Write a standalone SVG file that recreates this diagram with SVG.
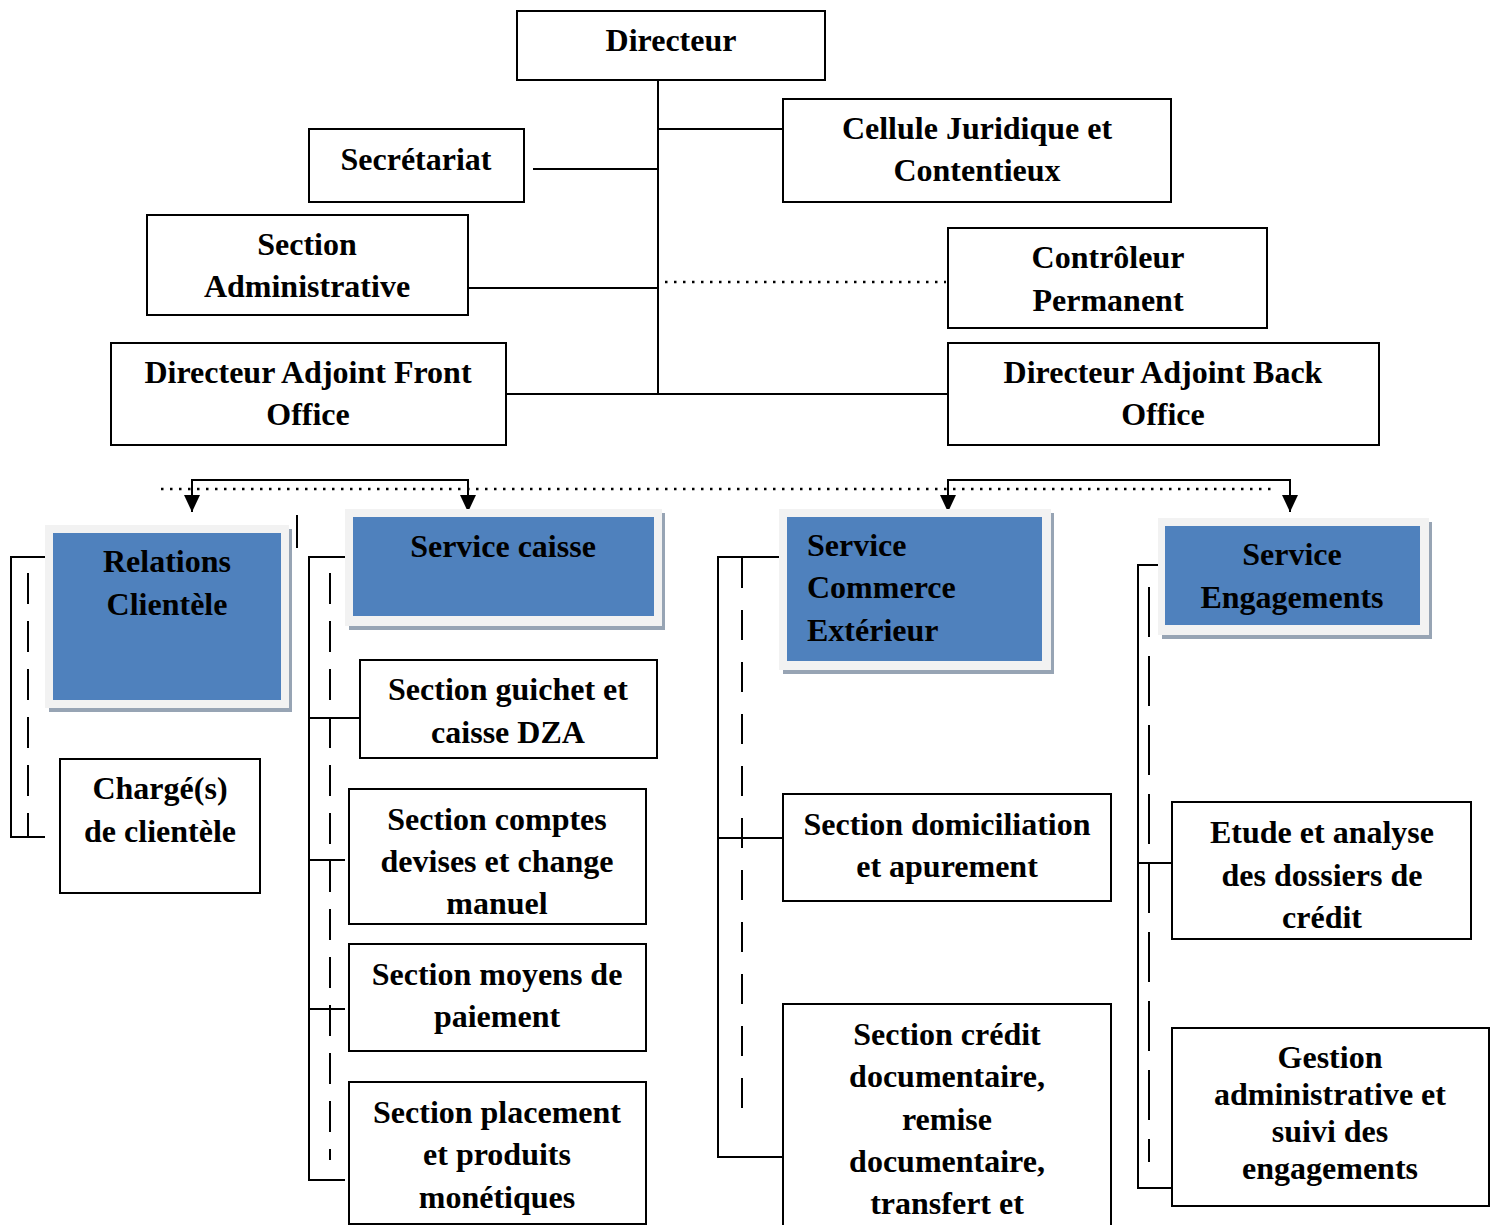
<svg xmlns="http://www.w3.org/2000/svg" width="1496" height="1225" viewBox="0 0 1496 1225">
<defs>
<style>
.box{fill:#fff;stroke:#000;stroke-width:2}
.ln{fill:none;stroke:#000;stroke-width:2}
.dot{fill:none;stroke:#000;stroke-width:2.5;stroke-dasharray:2.5 6.5}
.dash{fill:none;stroke:#000;stroke-width:2;stroke-dasharray:31 17}
.sh{fill:#97a4b4}
.fr{fill:#f2f2f2}
.bl{fill:#4f81bd}
text{font-family:"Liberation Serif","Times New Roman",serif;font-weight:bold;font-size:32px;fill:#000;text-anchor:middle}
.l{text-anchor:start}
</style>
<marker id="ah" markerWidth="17" markerHeight="16" refX="17" refY="8" orient="auto" markerUnits="userSpaceOnUse" viewBox="0 0 17 16">
<path d="M0,0 L17,8 L0,16 Z" fill="#000"/>
</marker>
</defs>
<rect width="1496" height="1225" fill="#fff"/>

<g id="connectors">
<path class="ln" d="M658,80 V394"/>
<path class="ln" d="M658,129 H783"/>
<path class="ln" d="M533,169 H658"/>
<path class="ln" d="M468,288 H658"/>
<path class="dot" d="M665,282 H946"/>
<path class="ln" d="M506,394 H948"/>
<path class="dot" d="M161,489 H1275"/>
<path class="ln" d="M192,480 H468"/>
<path class="ln" d="M192,479 V512" marker-end="url(#ah)"/>
<path class="ln" d="M468,479 V512" marker-end="url(#ah)"/>
<path class="ln" d="M948,480 H1290"/>
<path class="ln" d="M948,479 V512" marker-end="url(#ah)"/>
<path class="ln" d="M1290,479 V512" marker-end="url(#ah)"/>
<path class="ln" d="M297,515 V548"/>
<!-- Relations bracket -->
<path class="ln" d="M45,557 H11 V837 H45"/>
<path class="dash" d="M28,573 V837"/>
<!-- Caisse bracket -->
<path class="ln" d="M349,557 H309 V1180 H345"/>
<path class="ln" d="M309,718 H360"/>
<path class="ln" d="M309,860 H345"/>
<path class="ln" d="M309,1009 H345"/>
<path class="dash" d="M330,573 V1160"/>
<!-- Commerce bracket -->
<path class="ln" d="M783,557 H718 V1157 H783"/>
<path class="ln" d="M718,838 H783"/>
<path class="dash" d="M742,558 V1128" style="stroke-dasharray:30 22"/>
<!-- Engagements bracket -->
<path class="ln" d="M1160,565 H1138 V1188 H1172"/>
<path class="ln" d="M1138,863 H1172"/>
<path class="dash" d="M1149,587 V1162" style="stroke-dasharray:50 19"/>
</g>

<g id="directeur"><rect class="box" x="517" y="11" width="308" height="69"/><text x="671" y="51">Directeur</text></g>
<g id="cellule"><rect class="box" x="783" y="99" width="388" height="103"/><text x="977" y="139">Cellule Juridique et</text><text x="977" y="181">Contentieux</text></g>
<g id="secretariat"><rect class="box" x="309" y="129" width="215" height="73"/><text x="416" y="170">Secrétariat</text></g>
<g id="section-admin"><rect class="box" x="147" y="215" width="321" height="100"/><text x="307" y="255">Section</text><text x="307" y="297">Administrative</text></g>
<g id="controleur"><rect class="box" x="948" y="228" width="319" height="100"/><text x="1108" y="268">Contrôleur</text><text x="1108" y="311">Permanent</text></g>
<g id="da-front"><rect class="box" x="111" y="343" width="395" height="102"/><text x="308" y="383">Directeur Adjoint Front</text><text x="308" y="425">Office</text></g>
<g id="da-back"><rect class="box" x="948" y="343" width="431" height="102"/><text x="1163" y="383">Directeur Adjoint Back</text><text x="1163" y="425">Office</text></g>

<g id="relations">
<rect class="sh" x="49" y="529" width="243" height="183"/>
<rect class="fr" x="45" y="525" width="244" height="183"/>
<rect class="bl" x="53" y="533" width="228" height="167"/>
<text x="167" y="572">Relations</text><text x="167" y="615">Clientèle</text>
</g>
<g id="service-caisse">
<rect class="sh" x="349" y="513" width="316" height="117"/>
<rect class="fr" x="345" y="509" width="317" height="117"/>
<rect class="bl" x="353" y="517" width="301" height="99"/>
<text x="503" y="557">Service caisse</text>
</g>
<g id="service-commerce">
<rect class="sh" x="783" y="513" width="271" height="161"/>
<rect class="fr" x="779" y="509" width="272" height="161"/>
<rect class="bl" x="787" y="517" width="255" height="144"/>
<text class="l" x="807" y="556">Service</text><text class="l" x="807" y="598">Commerce</text><text class="l" x="807" y="641">Extérieur</text>
</g>
<g id="service-engagements">
<rect class="sh" x="1162" y="522" width="270" height="117"/>
<rect class="fr" x="1158" y="518" width="271" height="117"/>
<rect class="bl" x="1165" y="526" width="255" height="99"/>
<text x="1292" y="565">Service</text><text x="1292" y="608">Engagements</text>
</g>

<g id="charges"><rect class="box" x="60" y="759" width="200" height="134"/><text x="160" y="799">Chargé(s)</text><text x="160" y="842">de clientèle</text></g>
<g id="guichet"><rect class="box" x="360" y="660" width="297" height="98"/><text x="508" y="700">Section guichet et</text><text x="508" y="743">caisse DZA</text></g>
<g id="devises"><rect class="box" x="349" y="789" width="297" height="135"/><text x="497" y="830">Section comptes</text><text x="497" y="872">devises et change</text><text x="497" y="914">manuel</text></g>
<g id="moyens"><rect class="box" x="349" y="944" width="297" height="107"/><text x="497" y="985">Section moyens de</text><text x="497" y="1027">paiement</text></g>
<g id="placement"><rect class="box" x="349" y="1082" width="297" height="142"/><text x="497" y="1123">Section placement</text><text x="497" y="1165">et produits</text><text x="497" y="1208">monétiques</text></g>
<g id="domiciliation"><rect class="box" x="783" y="794" width="328" height="107"/><text x="947" y="835">Section domiciliation</text><text x="947" y="877">et apurement</text></g>
<g id="credoc"><rect class="box" x="783" y="1004" width="328" height="230"/><text x="947" y="1045">Section crédit</text><text x="947" y="1087">documentaire,</text><text x="947" y="1130">remise</text><text x="947" y="1172">documentaire,</text><text x="947" y="1214">transfert et</text></g>
<g id="etude"><rect class="box" x="1172" y="802" width="299" height="137"/><text x="1322" y="843">Etude et analyse</text><text x="1322" y="886">des dossiers de</text><text x="1322" y="928">crédit</text></g>
<g id="gestion"><rect class="box" x="1172" y="1028" width="317" height="178"/><text x="1330" y="1068">Gestion</text><text x="1330" y="1105">administrative et</text><text x="1330" y="1142">suivi des</text><text x="1330" y="1179">engagements</text></g>
</svg>
